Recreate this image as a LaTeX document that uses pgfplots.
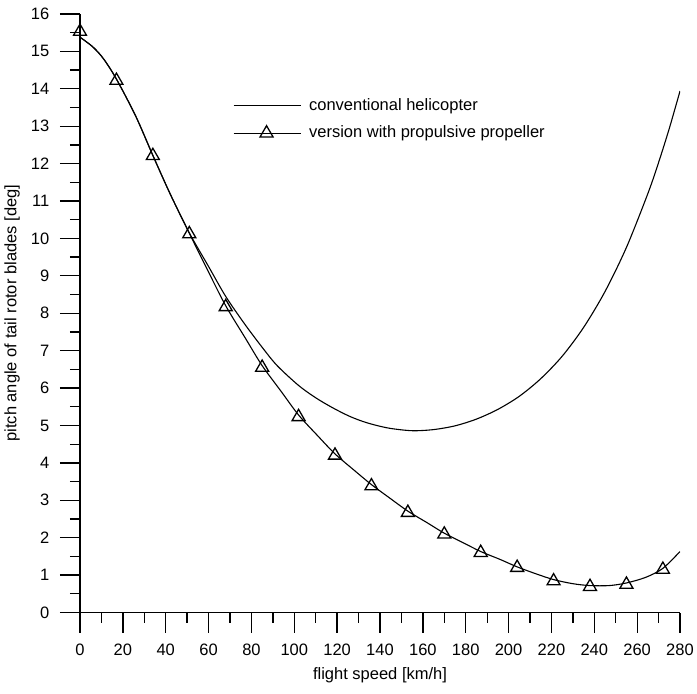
\documentclass[border=0pt]{standalone}
\usepackage{pgfplots}
\pgfplotsset{compat=1.18}
\usepackage{fontspec}
\setmainfont{Liberation Sans}
\pgfplotstableread{
x y
0 15.38
6 15.12
11 14.80
17 14.26
26 13.27
34 12.22
42 11.2
51 10.15
60 9.25
68 8.45
77 7.70
85 7.09
92 6.60
102 6.07
110 5.74
118 5.47
126 5.24
134 5.07
144 4.93
155 4.86
165 4.89
175 4.99
185 5.17
195 5.43
205 5.78
215 6.25
225 6.85
235 7.62
245 8.58
255 9.76
265 11.20
270 12.03
275 12.94
280 13.94
}\conventional
\pgfplotstableread{
x y
0 15.38
6 15.12
11 14.80
17 14.26
26 13.27
34 12.22
42 11.2
51 10.14
60 9.1
68 8.2
77 7.35
85 6.6
94 5.9
102 5.28
111 4.72
119 4.24
128 3.80
136 3.42
145 3.04
153 2.71
162 2.40
170 2.12
179 1.86
187 1.63
196 1.42
204 1.22
213 1.03
221 0.88
230 0.77
238 0.72
247 0.72
255 0.79
264 0.94
272 1.18
280 1.63
}\propline
\pgfplotstableread{
x y
0 15.53
17 14.22
34 12.21
51 10.12
68 8.17
85 6.55
102 5.23
119 4.20
136 3.38
153 2.67
170 2.09
187 1.60
204 1.20
221 0.84
238 0.69
255 0.75
272 1.15
}\propmarks
\begin{document}
\fontsize{16.5}{19}\selectfont
\begin{tikzpicture}
\begin{axis}[
  name=ax,
  width=600pt, height=598.5pt, scale only axis,
  xmin=0, xmax=280, ymin=0, ymax=16,
  axis x line*=bottom, axis y line*=left,
  axis line style={line width=1.3pt, -},
  xtick={0,20,...,280}, ytick={0,1,...,16},
  minor x tick num=1, minor y tick num=1,
  tick align=outside,
  major tick length=20pt, minor tick length=10pt,
  every tick/.style={black, line width=1.3pt},
  /pgf/number format/assume math mode=true,
  ticklabel style={font=\fontsize{16.5}{19}\selectfont},
  xticklabel style={yshift=-6pt},
  yticklabel style={xshift=-5pt},
  label style={font=\fontsize{16.5}{19}\selectfont},
  xlabel={flight speed [km/h]},
  ylabel={pitch angle of tail rotor blades [deg]},
  every axis x label/.style={at={([yshift=-63pt]axis description cs:0.5,0)}, anchor=center},
  every axis y label/.style={at={([xshift=-68pt]axis description cs:0,0.5)}, rotate=90, anchor=center},
  legend style={draw=none, fill=none, inner sep=0pt, outer sep=0pt,
    at={(axis cs:71.4,13.18)}, anchor=west,
    font=\fontsize{16.5}{19}\selectfont, row sep=11pt,
    nodes={inner sep=1pt},
    /tikz/every odd column/.append style={column sep=7pt}},
  legend cell align=left,
  legend image code/.code={\draw[mark repeat=2,mark phase=2,#1] plot coordinates {(0pt,0pt) (33pt,0pt) (67pt,0pt)};},
]
\addplot[black, line width=1.1pt, smooth, forget plot] table[x=x,y=y] {\conventional};
\addplot[black, line width=1.1pt, smooth, forget plot] table[x=x,y=y] {\propline};
\addplot[black, only marks, mark=triangle, mark size=7.5pt, mark options={line width=1.3pt, fill=white}, forget plot] table[x=x,y=y] {\propmarks};
\addlegendimage{black, line width=1.1pt}
\addlegendentry{conventional helicopter}
\addlegendimage{black, line width=1.1pt, mark=triangle, mark size=7.5pt, mark options={line width=1.3pt, fill=white}}
\addlegendentry{version with propulsive propeller}
\end{axis}
\pgfresetboundingbox
\path[use as bounding box] ([shift={(-80pt,-80.5pt)}]ax.south west) rectangle ([shift={(17pt,14pt)}]ax.north east);
\end{tikzpicture}
\end{document}
